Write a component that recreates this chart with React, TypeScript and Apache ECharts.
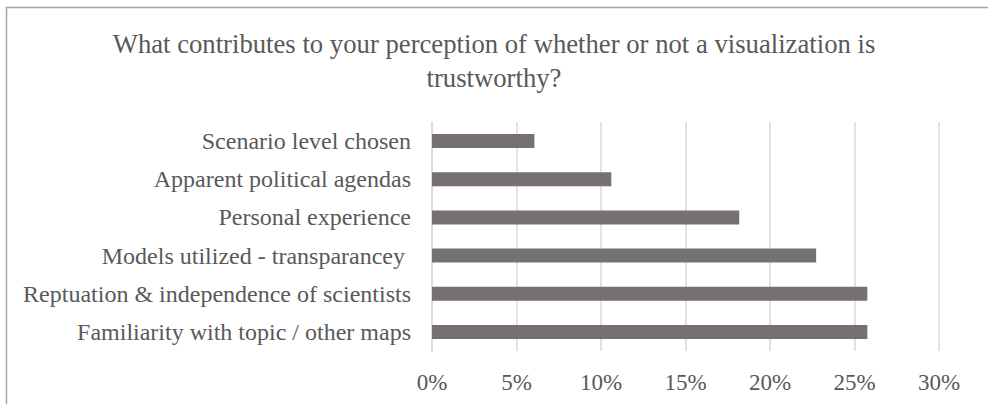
import React, { useEffect, useRef } from "react";
import * as echarts from "echarts";

const categories = [
  "Familiarity with topic / other maps",
  "Reptuation & independence of scientists",
  "Models utilized - transparancey ",
  "Personal experience",
  "Apparent political agendas",
  "Scenario level chosen",
];
const values = [0.2576, 0.2576, 0.2273, 0.1818, 0.1061, 0.0606];
const xTicks = { min: 0, max: 0.3, interval: 0.05 };
const titleText =
  "What contributes to your perception of whether or not a visualization is\ntrustworthy?";

export default function App() {
  const ref = useRef<HTMLDivElement>(null);
  useEffect(() => {
    if (!ref.current) return;
    const chart = echarts.init(ref.current, undefined, { renderer: "svg" });
    const font = "Liberation Serif";
    chart.setOption({
      animation: false,
      backgroundColor: "#ffffff",
      title: {
        text: titleText,
        left: "center",
        top: 22,
        textStyle: {
          fontFamily: font,
          fontSize: 26.7,
          fontWeight: "normal",
          color: "#595959",
          lineHeight: 34,
        },
      },
      graphic: [
        {
          type: "rect",
          shape: { x: 6.5, y: 7.5, width: 1200, height: 1200 },
          style: { fill: "none", stroke: "#a6a6a6", lineWidth: 1.5 },
          silent: true,
        },
      ],
      grid: { left: 432, right: 49, top: 122, bottom: 53, containLabel: false },
      xAxis: {
        type: "value",
        min: xTicks.min,
        max: xTicks.max,
        interval: xTicks.interval,
        axisLine: { show: false },
        axisTick: { show: false },
        splitLine: { show: true, lineStyle: { color: "#d9d9d9", width: 1.5 } },
        axisLabel: {
          fontFamily: font,
          fontSize: 23,
          color: "#595959",
          margin: 20,
          formatter: (v: number) => Math.round(v * 100) + "%",
        },
      },
      yAxis: {
        type: "category",
        data: categories,
        axisLine: { show: true, lineStyle: { color: "#d9d9d9", width: 1.5 } },
        axisTick: { show: false },
        axisLabel: {
          fontFamily: font,
          fontSize: 24,
          color: "#595959",
          margin: 21,
        },
      },
      series: [
        {
          type: "bar",
          data: values,
          barWidth: 14,
          itemStyle: { color: "#767171" },
        },
      ],
    });
    return () => chart.dispose();
  }, []);
  return (
    <div
      ref={ref}
      style={{ position: "absolute", left: 0, top: 0, width: 988, height: 404 }}
    />
  );
}
